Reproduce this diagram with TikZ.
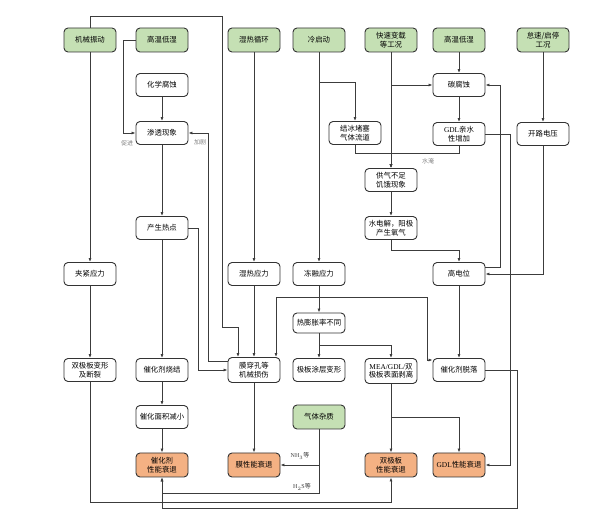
\documentclass[tikz,border=0pt]{standalone}
\usepackage{fontspec}
\setmainfont{Liberation Serif}
\newfontfamily\cjk{Noto Sans CJK SC}
\usepackage{tikz}
\usetikzlibrary{shapes, arrows.meta, positioning, calc}
\definecolor{gbox}{RGB}{197,224,180}
\definecolor{obox}{RGB}{244,177,131}
\definecolor{edge}{RGB}{60,60,60}

\begin{document}
\begin{tikzpicture}
  [
    x=1pt, y=-1pt, >={Latex[length=4pt,width=3pt]},
    Box/.style={rectangle, rounded corners=4pt, draw=black!80, line width=0.9pt, minimum width=52pt, minimum height=23pt, inner xsep=1pt, inner ysep=1pt, align=center, font=\cjk\fontsize{7.4}{8.8}\selectfont},
    Green/.style={Box, fill=gbox, minimum height=24pt},
    White/.style={Box, fill=white},
    Orange/.style={Box, fill=obox, minimum height=24pt},
    Note/.style={font=\cjk\fontsize{6}{7}\selectfont, text=gray, inner sep=0pt},
    Tag/.style={font=\cjk\fontsize{6}{7}\selectfont, text=edge, inner sep=0pt},
    Line/.style={draw=edge, line width=0.75pt}
  ]
  \useasboundingbox (0,0) rectangle (600,526);

  % Nodes
  \node[Green] (vib) at(90, 40) {机械振动};
  \node[Green] (hthl1) at(162, 40) {高温低湿};
  \node[Green] (hyc) at(254, 40) {湿热循环};
  \node[Green] (cold) at(319, 40) {冷启动};
  \node[Green] (load) at(391, 40) {快速变载\\等工况};
  \node[Green] (hthl2) at(459, 40) {高温低湿};
  \node[Green] (idle) at(543, 40) {怠速/启停\\工况};

  \node[White] (chem) at(162, 85) {化学腐蚀};
  \node[White] (ccor) at(459, 85) {碳腐蚀};

  \node[White] (perm) at(162, 133) {渗透现象};
  \node[White] (ice) at(355, 133) {结冰堵塞\\气体流道};
  \node[White] (gdlw) at(459, 134) {\textrm{GDL}亲水\\性增加};
  \node[White] (ocv) at(543, 134) {开路电压};

  \node[White] (starv) at(391, 180) {供气不足\\饥饿现象};

  \node[White] (hot) at(162, 228) {产生热点};
  \node[White] (elec) at(391, 228) {水电解，阳极\\产生氧气};

  \node[White] (clamp) at(90, 274) {夹紧应力};
  \node[White] (hys) at(254, 274) {湿热应力};
  \node[White] (frz) at(319, 274) {冻融应力};
  \node[White] (hpot) at(459, 274) {高电位};

  \node[White, minimum height=20pt] (expn) at(319, 323) {热膨胀率不同};

  \node[White] (bpdef) at(90, 370) {双极板变形\\及断裂};
  \node[White] (sint) at(162, 370) {催化剂烧结};
  \node[White, minimum height=25pt] (pin) at(254, 370) {膜穿孔等\\机械损伤};
  \node[White] (coat) at(319, 370) {极板涂层变形};
  \node[White, minimum height=25pt] (peel) at(391, 371) {\textrm{MEA/GDL/}双\\极板表面剥离};
  \node[White] (cdet) at(459, 370) {催化剂脱落};

  \node[White] (area) at(162, 417) {催化面积减小};
  \node[Green] (imp) at(319, 417) {气体杂质};

  \node[Orange] (catd) at(162, 465) {催化剂\\性能衰退};
  \node[Orange] (memd) at(254, 465) {膜性能衰退};
  \node[Orange] (bpd) at(391, 465) {双极板\\性能衰退};
  \node[Orange] (gdld) at(459, 465) {\textrm{GDL}性能衰退};

  % Labels
  \node[Note] (l1) at(127, 143) {促进};
  \node[Note] (l2) at(200, 142) {加剧};
  \node[Note] (l3) at(428, 161) {水淹};
  \node[Tag] (l4) at(300, 456) {\textrm{NH$_3$}等};
  \node[Tag] (l5) at(302, 487) {\textrm{H$_2$S}等};

  % Lines
  \path [->, Line] (vib.north) |- (222, 16) -- (222, 327) -| ([xshift=-16pt]pin.north);
  \path [->, Line] (vib) -- (clamp);
  \path [->, Line] (clamp) -- (bpdef);
  \path [->, Line] (bpdef.south) |- (391, 502) -- (bpd.south);

  \path [->, Line] (hthl1.west) -- (123, 40) |- (perm.west);
  \path [->, Line] (chem) -- (perm);
  \path [->, Line] (perm) -- (hot);
  \path [->, Line] (hot.east) -- (198, 228) |- (pin.west);
  \path [->, Line] ([yshift=9pt]pin.west) -- (208, 361) |- (perm.east);
  \path [->, Line] (hot) -- (sint);
  \path [->, Line] (sint) -- (area);
  \path [->, Line] (area) -- (catd);

  \path [->, Line] (hyc) -- (hys);
  \path [->, Line] (hys) -- (pin);
  \path [->, Line] (pin) -- (memd);

  \path [->, Line] (cold) -- (frz);
  \path [->, Line] (319, 82) -| (ice.north);
  \path [->, Line] (frz) -- (expn);
  \path [->, Line] (319, 297) -| ([xshift=22pt]pin.north);
  \path [->, Line] (319, 297) -- (427, 297) |- ([yshift=10pt]cdet.west);
  \path [->, Line] (expn) -- (coat);
  \path [->, Line] (319, 345) -| (peel.north);
  \path [->, Line] (peel) -- (bpd);
  \path [->, Line] (391, 417) -| (gdld.north);

  \path [->, Line] (imp.south) |- (memd.east);
  \path [->, Line] (319, 464) -- (319, 493) -| (catd.south);
  \path [->, Line] (cdet.east) -- (517, 370) |- (162, 508) -- (catd.south);

  \path [->, Line] (load) -- (starv);
  \path [->, Line] (391, 85) -- (ccor.west);
  \path [->, Line] (hthl2) -- (ccor);
  \path [->, Line] (ccor) -- (gdlw);
  \path [->, Line] (ice.south) -- (355, 153) -| (starv.north);
  \path [->, Line] (gdlw.south) -- (459, 153) -| (starv.north);
  \path [->, Line] (starv) -- (elec);
  \path [->, Line] (elec.south) -- (391, 250) -| (hpot.north);

  \path [->, Line] (idle) -- (ocv);
  \path [->, Line] (ocv.south) |- (hpot.east);
  \path [->, Line] ([yshift=7pt]hpot.east) -- (500, 267) |- (ccor.east);
  \path [->, Line] (hpot) -- (cdet);
  \path [->, Line] (gdlw.east) -- (510, 134) |- (gdld.east);

\end{tikzpicture}
\end{document}
